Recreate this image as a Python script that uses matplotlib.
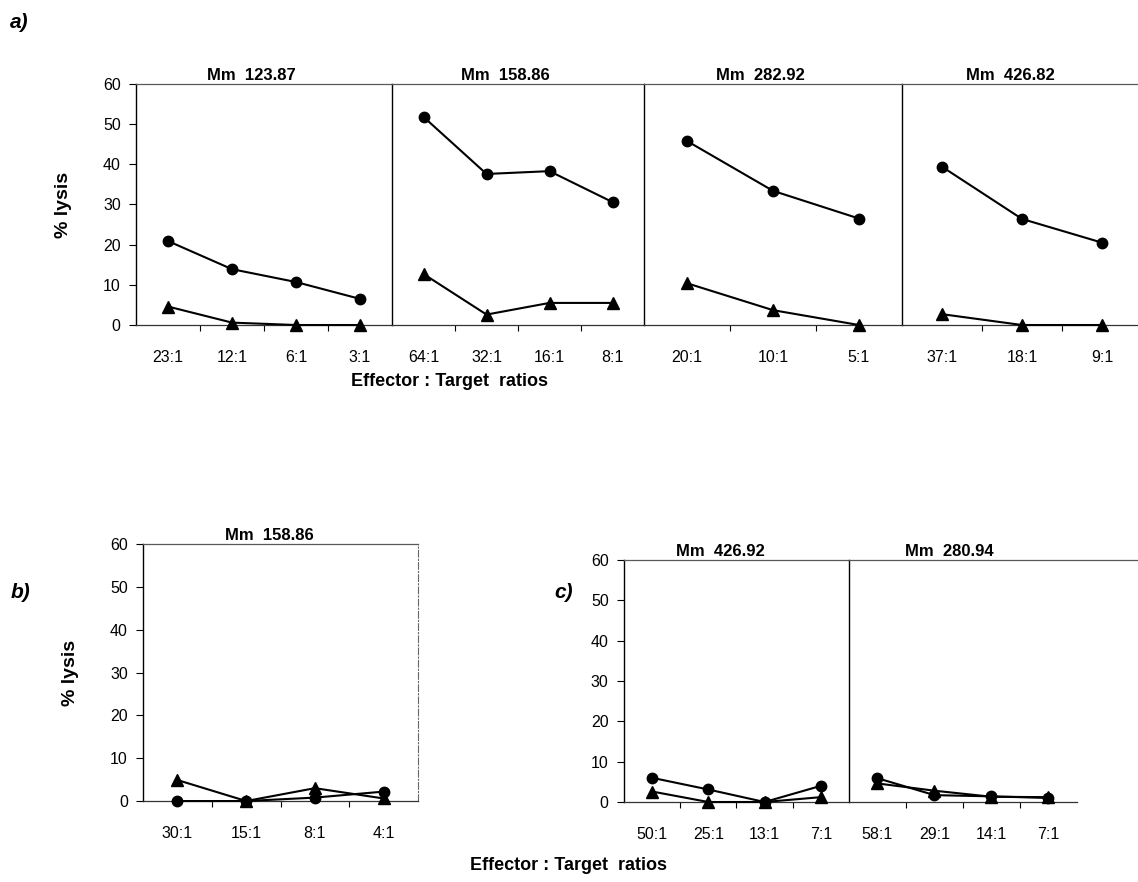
import matplotlib
matplotlib.use("Agg")
import matplotlib.pyplot as plt

plt.rcParams['font.family'] = ['Liberation Sans', 'DejaVu Sans']

# panel a) four donors
a_titles = ["Mm  123.87", "Mm  158.86", "Mm  282.92", "Mm  426.82"]
a_ratios = [["23:1", "12:1", "6:1", "3:1"],
            ["64:1", "32:1", "16:1", "8:1"],
            ["20:1", "10:1", "5:1"],
            ["37:1", "18:1", "9:1"]]
a_circle = [[20.9, 13.9, 10.7, 6.5],
            [51.8, 37.6, 38.3, 30.6],
            [45.8, 33.4, 26.5],
            [39.4, 26.4, 20.5]]
a_tri = [[4.6, 0.6, 0, 0],
         [12.7, 2.6, 5.5, 5.5],
         [10.4, 3.7, 0],
         [2.7, 0, 0]]

# panel b)
b_title = "Mm  158.86"
b_ratios = ["30:1", "15:1", "8:1", "4:1"]
b_circle = [0, 0, 0.8, 2.2]
b_tri = [4.9, 0, 3.0, 0.6]

# panel c)
c_titles = ["Mm  426.92", "Mm  280.94"]
c_ratios = [["50:1", "25:1", "13:1", "7:1"],
            ["58:1", "29:1", "14:1", "7:1"]]
c_circle = [[6.0, 3.1, 0, 4.0],
            [5.9, 1.7, 1.4, 1.0]]
c_tri = [[2.6, 0, 0, 1.2],
         [4.6, 2.8, 1.3, 1.2]]

fig = plt.figure(figsize=(11.38, 8.82), dpi=100)


def panel(rect, title, labels, circ, tri, first, title_x=0.45, right=False):
    ax = fig.add_axes(rect)
    x = list(range(len(labels)))
    ax.plot(x, circ, color="black", lw=1.5, marker="o", ms=7.5, clip_on=False, zorder=3)
    ax.plot(x, tri, color="black", lw=1.5, marker="^", ms=9, clip_on=False, zorder=3)
    ax.set_xlim(-0.5, len(labels) - 0.5)
    ax.set_ylim(0, 60)
    ax.set_xticks(x)
    ax.set_xticklabels(labels, fontsize=11.5)
    ax.set_xticks([i + 0.5 for i in x[:-1]], minor=True)
    ax.tick_params(axis="x", which="major", length=0, pad=18)
    ax.tick_params(axis="x", which="minor", length=4, width=0.8, direction="out")
    ax.spines["top"].set_color("0.35")
    ax.spines["top"].set_linewidth(0.9)
    ax.spines["bottom"].set_color("0.2")
    ax.spines["bottom"].set_linewidth(0.9)
    ax.spines["left"].set_linewidth(1.0)
    if right:
        ax.spines["right"].set_color("0.4")
        ax.spines["right"].set_linewidth(0.8)
        ax.spines["right"].set_linestyle((0, (6, 2, 1, 2)))
    else:
        ax.spines["right"].set_visible(False)
    if first:
        ax.set_yticks(range(0, 61, 10))
        ax.set_yticklabels([str(v) for v in range(0, 61, 10)], fontsize=11.5)
        ax.tick_params(axis="y", length=5, width=0.8, pad=6)
    else:
        ax.set_yticks([])
    ax.text(title_x, 1.005, title, transform=ax.transAxes, ha="center", va="bottom",
            fontsize=12, fontweight="bold")
    return ax


# a) row
a_rects = [(0.1195, 0.6315, 0.2250, 0.2733),
           (0.3445, 0.6315, 0.2214, 0.2733),
           (0.5659, 0.6315, 0.2267, 0.2733),
           (0.7926, 0.6315, 0.2110, 0.2733)]
for i in range(4):
    ax = panel(a_rects[i], a_titles[i], a_ratios[i], a_circle[i], a_tri[i], i == 0)
    if i == 0:
        ax.set_ylabel("% lysis", fontsize=14, fontweight="bold", labelpad=22)

# b)
axb = panel((0.1257, 0.0918, 0.2416, 0.2914), b_title, b_ratios, b_circle, b_tri, True,
            title_x=0.46, right=True)
axb.set_ylabel("% lysis", fontsize=14, fontweight="bold", labelpad=22)

# c)
panel((0.5483, 0.0907, 0.1977, 0.2744), c_titles[0], c_ratios[0], c_circle[0], c_tri[0], True,
      title_x=0.43)
axc2 = panel((0.7460, 0.0907, 0.2004, 0.2744), c_titles[1], c_ratios[1], c_circle[1], c_tri[1], False,
             title_x=0.44)
axc2.spines["top"].set_bounds(-0.5, 4.6)

fig.text(0.395, 0.567, "Effector : Target  ratios", ha="center", va="center",
         fontsize=13, fontweight="bold")
fig.text(0.50, 0.019, "Effector : Target  ratios", ha="center", va="center",
         fontsize=13, fontweight="bold")

fig.text(0.009, 0.975, "a)", fontsize=15, fontweight="bold", style="italic", va="center")
fig.text(0.009, 0.328, "b)", fontsize=15, fontweight="bold", style="italic", va="center")
fig.text(0.487, 0.328, "c)", fontsize=15, fontweight="bold", style="italic", va="center")

fig.savefig("out.png", dpi=100)
